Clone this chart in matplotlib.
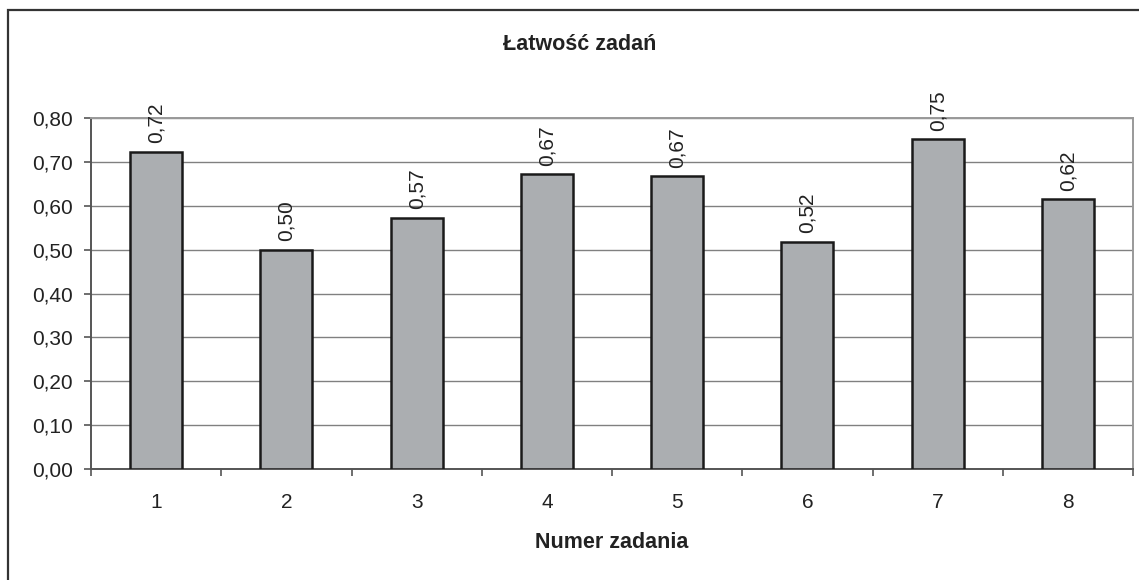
import matplotlib
matplotlib.use("Agg")
import matplotlib.pyplot as plt
from matplotlib.patches import Rectangle
from matplotlib.ticker import FixedLocator

categories = ["1", "2", "3", "4", "5", "6", "7", "8"]
values = [0.723, 0.500, 0.573, 0.672, 0.668, 0.518, 0.751, 0.615]
value_labels = ["0,72", "0,50", "0,57", "0,67", "0,67", "0,52", "0,75", "0,62"]
y_ticks = [0.0, 0.1, 0.2, 0.3, 0.4, 0.5, 0.6, 0.7, 0.8]
y_tick_labels = ["0,00", "0,10", "0,20", "0,30", "0,40", "0,50", "0,60", "0,70", "0,80"]
title = "Łatwość zadań"
xlabel = "Numer zadania"

plt.rcParams['font.family'] = ['Liberation Sans', 'DejaVu Sans']

W, H = 1139, 580
fig = plt.figure(figsize=(W / 100, H / 100), dpi=100)
fig.patch.set_facecolor("white")

# outer chart border (extends past right/bottom edge)
fig.patches.append(Rectangle((8 / W, -0.05), 1.1, 1 - 10 / H + 0.05,
                             transform=fig.transFigure, fill=False,
                             edgecolor="#333333", linewidth=1.6, clip_on=False))

left, right, bottom, top = 91 / W, 1133 / W, 1 - 469 / H, 1 - 118 / H
ax = fig.add_axes([left, bottom, right - left, top - bottom])

x = list(range(len(categories)))
ax.bar(x, values, width=0.4, color="#ABAEB1", edgecolor="#1a1a1a", linewidth=1.8, zorder=3)

for xi, v, lab in zip(x, values, value_labels):
    ax.annotate(lab, (xi, v), xytext=(0, 6), textcoords="offset points",
                rotation=90, ha="center", va="bottom", fontsize=15, color="#222222",
                annotation_clip=False)

ax.set_xlim(-0.5, len(categories) - 0.5)
ax.set_ylim(0, 0.8)
ax.set_yticks(y_ticks)
ax.set_yticklabels(y_tick_labels, fontsize=15, color="#222222")
ax.set_xticks(x)
ax.set_xticklabels(categories, fontsize=15, color="#222222")
ax.xaxis.set_minor_locator(FixedLocator([i - 0.5 for i in range(len(categories) + 1)]))
ax.tick_params(axis="x", which="major", length=0, pad=17)
ax.tick_params(axis="x", which="minor", length=5, width=1.2, color="#555555", direction="out")
ax.tick_params(axis="y", which="major", length=5, width=1.2, color="#555555", pad=8)

ax.grid(axis="y", color="#808080", linewidth=1.0, zorder=0)
ax.set_axisbelow(True)
for s in ["top", "right"]:
    ax.spines[s].set_color("#999999")
    ax.spines[s].set_linewidth(1.4)
for s in ["left", "bottom"]:
    ax.spines[s].set_color("#555555")
    ax.spines[s].set_linewidth(1.4)

fig.text(580 / W, 1 - 44 / H, title, ha="center", va="center",
         fontsize=15.5, fontweight="bold", color="#222222")
fig.text(612 / W, 1 - 543 / H, xlabel, ha="center", va="center",
         fontsize=15.5, fontweight="bold", color="#222222")

fig.savefig("out.png", dpi=100, facecolor="white")
